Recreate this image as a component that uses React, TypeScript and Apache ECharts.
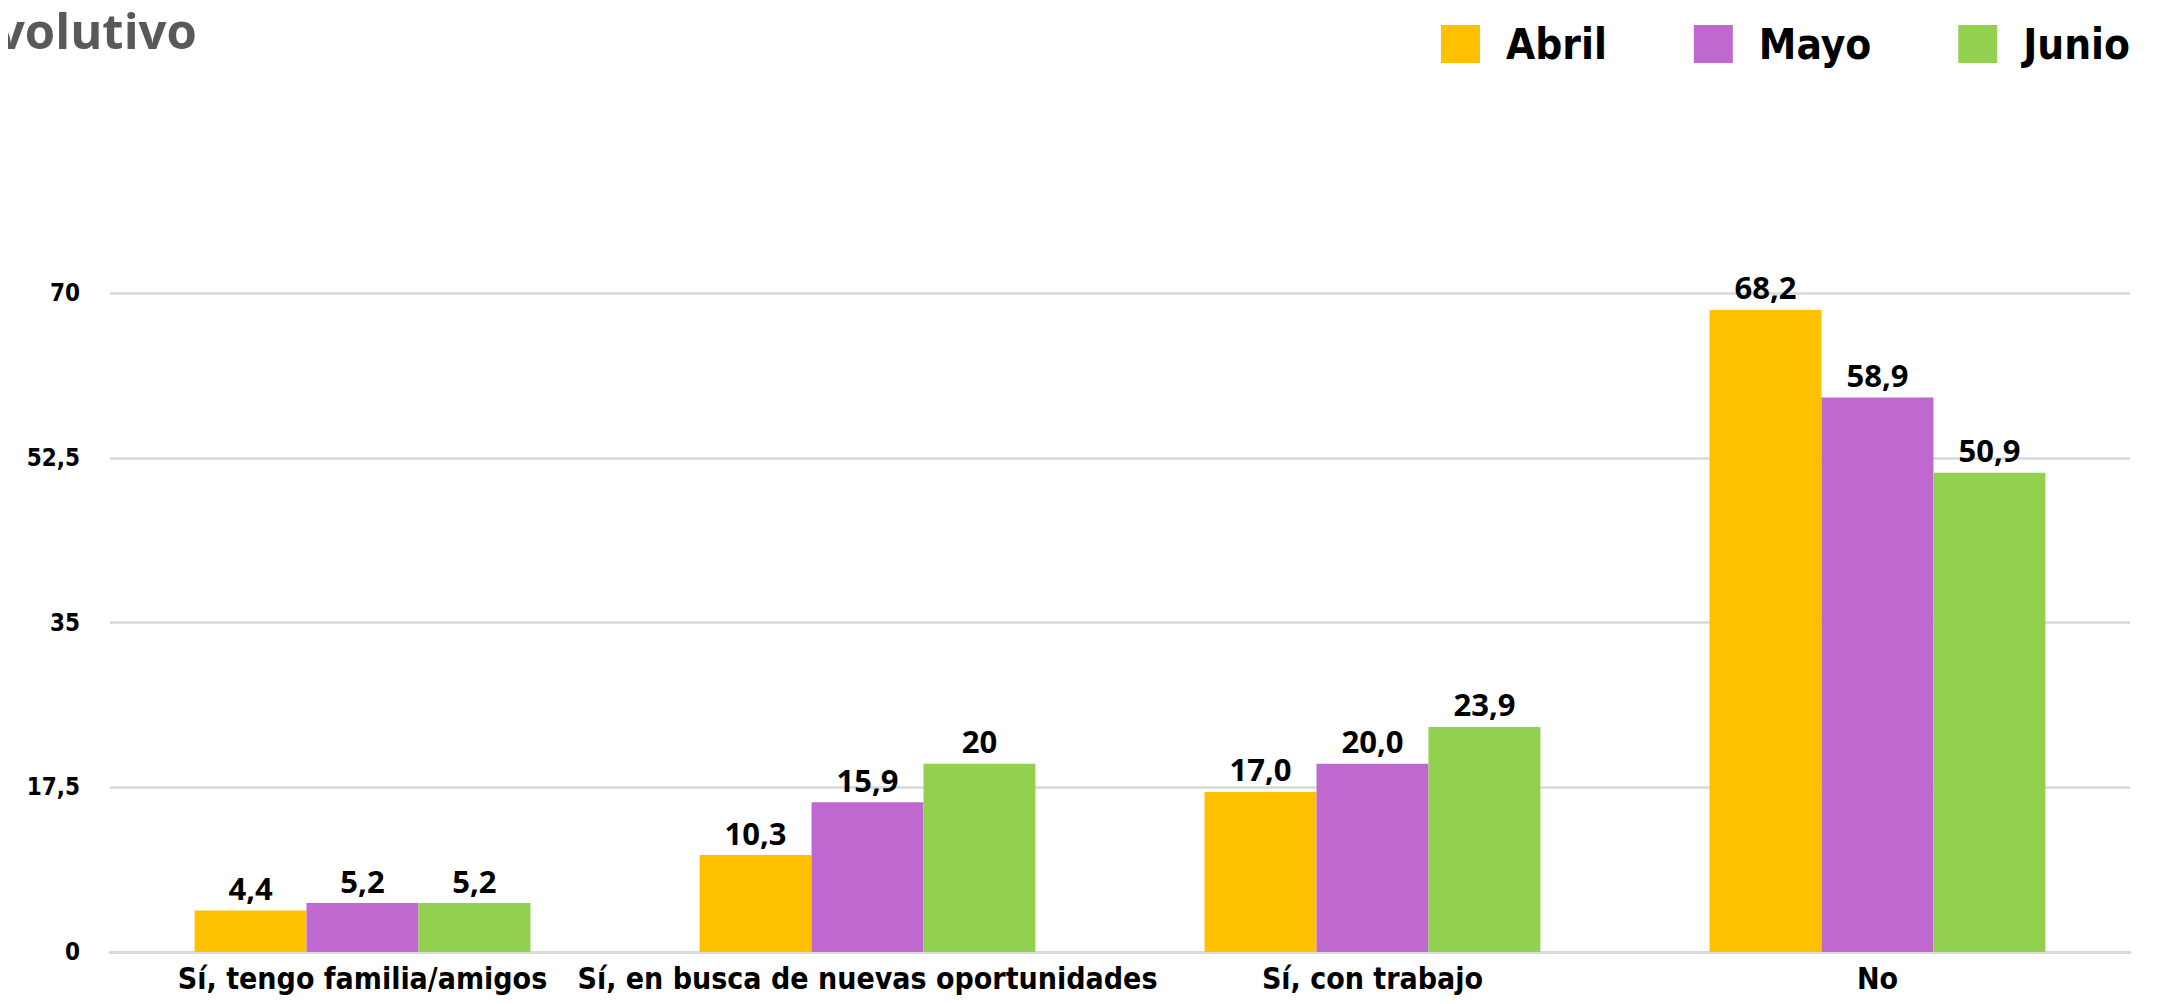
import React, { useEffect, useRef } from "react";
import * as echarts from "echarts";

const categories = [
  "Sí, tengo familia/amigos",
  "Sí, en busca de nuevas oportunidades",
  "Sí, con trabajo",
  "No",
];
const seriesNames = ["Abril", "Mayo", "Junio"];
const abril = [4.4, 10.3, 17.0, 68.2];
const mayo = [5.2, 15.9, 20.0, 58.9];
const junio = [5.2, 20, 23.9, 50.9];
const abrilLabels = ["4,4", "10,3", "17,0", "68,2"];
const mayoLabels = ["5,2", "15,9", "20,0", "58,9"];
const junioLabels = ["5,2", "20", "23,9", "50,9"];
const yTicks = { min: 0, max: 70, interval: 17.5 };
const titleText = "volutivo";

const colors = ["#FFC000", "#BF68CF", "#92D050"];

export default function App() {
  const ref = useRef<HTMLDivElement>(null);
  useEffect(() => {
    if (!ref.current) return;
    const chart = echarts.init(ref.current, undefined, { renderer: "svg" });
    const values = [abril, mayo, junio];
    const labels = [abrilLabels, mayoLabels, junioLabels];
    chart.setOption({
      animation: false,
      backgroundColor: "#ffffff",
      title: {
        text: titleText,
        left: -3,
        top: 5,
        padding: 0,
        textStyle: {
          fontFamily: "Open Sans",
          fontWeight: 700,
          fontSize: 49,
          color: "#595959",
        },
      },
      legend: {
        left: 1441,
        top: 23,
        itemWidth: 39,
        itemHeight: 38,
        itemGap: 87,
        icon: "rect",
        padding: 0,
        textStyle: {
          fontFamily: "DejaVu Sans Condensed",
          fontWeight: 700,
          fontSize: 42,
          color: "#000",
          padding: [0, 0, 0, 21],
        },
        data: seriesNames,
      },
      grid: { left: 110, right: 37, top: 293, bottom: 52, containLabel: false },
      xAxis: {
        type: "category",
        data: categories,
        axisLine: { lineStyle: { color: "#d9d9d9", width: 3 } },
        axisTick: { show: false },
        axisLabel: {
          fontFamily: "DejaVu Sans Condensed",
          fontWeight: 700,
          fontSize: 30,
          color: "#000",
          margin: 11,
          interval: 0,
        },
      },
      yAxis: {
        type: "value",
        min: yTicks.min,
        max: yTicks.max,
        interval: yTicks.interval,
        axisLine: { show: false },
        axisTick: { show: false },
        splitLine: { lineStyle: { color: "#d9d9d9", width: 2.5 } },
        axisLabel: {
          fontFamily: "DejaVu Sans Condensed",
          fontWeight: 700,
          fontSize: 24,
          color: "#000",
          margin: 30,
          formatter: (v: number) => String(v).replace(".", ","),
        },
      },
      series: seriesNames.map((name, i) => ({
        name,
        type: "bar",
        data: values[i],
        barGap: "0%",
        barCategoryGap: "33.5%",
        itemStyle: { color: colors[i] },
        label: {
          show: true,
          position: "top",
          distance: 7,
          fontFamily: "Open Sans",
          fontWeight: 700,
          fontSize: 31,
          color: "#000",
          formatter: (p: any) => labels[i][p.dataIndex],
        },
      })),
    });
    return () => chart.dispose();
  }, []);
  return <div ref={ref} style={{ width: 2167, height: 1004, margin: -8 }} />;
}
